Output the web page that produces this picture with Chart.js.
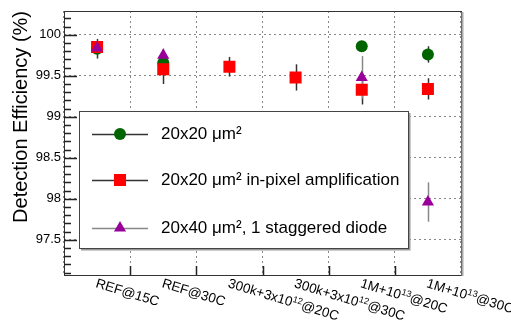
<!DOCTYPE html>
<html>
<head>
<meta charset="utf-8">
<script src="https://cdn.jsdelivr.net/npm/chart.js@4/dist/chart.umd.min.js"></script>
<style>
  html, body { margin: 0; padding: 0; background: #fff; }
</style>
</head>
<body>
<canvas id="myChart" width="511" height="327"></canvas>
<script>
'use strict';

// data

let categories = ['REF@15C', 'REF@30C', '300k+3x10^{12}@20C', '300k+3x10^{12}@30C', '1M+10^{13}@20C', '1M+10^{13}@30C'];
let seriesNames = ['20x20 \u03bcm\u00b2', '20x20 \u03bcm\u00b2 in-pixel amplification', '20x40 \u03bcm\u00b2, 1 staggered diode'];
let eff20x20 = [99.83, 99.66, null, null, 99.86, 99.76];
let err20x20 = [0.12, 0.08, null, null, 0.04, 0.1];
let effAmp = [99.85, 99.58, 99.61, 99.48, 99.33, 99.34];
let errAmp = [0.05, 0.18, 0.12, 0.16, 0.18, 0.13];
let eff20x40 = [99.84, 99.75, null, null, 99.48, 97.96];
let err20x40 = [0.08, 0.08, null, null, 0.26, 0.24];
let yTicks = [97.5, 98, 98.5, 99, 99.5, 100];
let yMin = 97.07;
let yMax = 100.29;

let fontFamily = '"Liberation Sans", Arial, Helvetica, sans-serif';

// draw text with ^{..} superscripts along the current baseline
function drawRichText(ctx, text, x, y, size) {
  let parts = text.split(/(\^\{[^}]*\})/);
  for (let i = 0; i < parts.length; i++) {
    let p = parts[i];
    if (!p) continue;
    if (p.startsWith('^{')) {
      p = p.slice(2, -1);
      ctx.font = Math.round(size * 0.7) + 'px ' + fontFamily;
      ctx.fillText(p, x, y - size * 0.1);
    } else {
      ctx.font = size + 'px ' + fontFamily;
      ctx.fillText(p, x, y);
    }
    x += ctx.measureText(p).width;
  }
}

// error bars, drawn under the markers
let errorBars = {
  id: 'errorBars',
  beforeDatasetsDraw(chart) {
    let ctx = chart.ctx;
    let yScale = chart.scales.y;
    let xScale = chart.scales.x;
    chart.data.datasets.forEach(function (ds) {
      ctx.save();
      ctx.strokeStyle = ds.errColor;
      ctx.lineWidth = 1.5;
      for (let i = 0; i < ds.data.length; i++) {
        if (ds.data[i] === null) continue;
        let x = Math.round(xScale.getPixelForValue(i)) + 0.5;
        ctx.beginPath();
        ctx.moveTo(x, yScale.getPixelForValue(ds.data[i] + ds.errors[i]));
        ctx.lineTo(x, yScale.getPixelForValue(ds.data[i] - ds.errors[i]));
        ctx.stroke();
      }
      ctx.restore();
    });
  }
};

// ROOT style legend box inside the frame
let boxLegend = {
  id: 'boxLegend',
  beforeDatasetsDraw(chart) {
    let ctx = chart.ctx;
    let box = { left: 79, top: 111, right: 409, bottom: 249 };
    let rows = [134, 180, 228];
    ctx.save();
    ctx.fillStyle = '#fff';
    ctx.fillRect(box.left, box.top, box.right - box.left, box.bottom - box.top);
    ctx.strokeStyle = '#999';
    ctx.lineWidth = 2;
    ctx.beginPath();
    ctx.moveTo(box.left + 2, box.bottom + 0.5);
    ctx.lineTo(box.right + 0.5, box.bottom + 0.5);
    ctx.lineTo(box.right + 0.5, box.top + 2);
    ctx.stroke();
    ctx.strokeStyle = '#444';
    ctx.lineWidth = 1;
    ctx.strokeRect(box.left + 0.5, box.top + 0.5, box.right - box.left - 1, box.bottom - box.top - 1);
    chart.data.datasets.forEach(function (ds, i) {
      let y = rows[i];
      ctx.strokeStyle = ds.errColor;
      ctx.lineWidth = 1.5;
      ctx.beginPath();
      ctx.moveTo(92, y + 0.5);
      ctx.lineTo(148, y + 0.5);
      ctx.stroke();
      ctx.fillStyle = ds.backgroundColor;
      Chart.helpers.drawPoint(ctx, {
        pointStyle: ds.pointStyle, radius: ds.pointRadius, rotation: 0, borderWidth: 0
      }, 120, y);
      ctx.fillStyle = '#000';
      ctx.font = '17px ' + fontFamily;
      ctx.textBaseline = 'middle';
      ctx.textAlign = 'left';
      ctx.fillText(ds.label, 161, y);
    });
    ctx.restore();
  }
};

// frame, inward ticks and slanted category labels
let frameAndLabels = {
  id: 'frameAndLabels',
  afterDraw(chart) {
    let ctx = chart.ctx;
    let area = chart.chartArea;
    let yScale = chart.scales.y;
    let xScale = chart.scales.x;
    ctx.save();
    ctx.strokeStyle = '#333';
    ctx.lineWidth = 1;
    ctx.strokeRect(Math.round(area.left) + 0.5, Math.round(area.top) + 0.5,
      Math.round(area.right - area.left), Math.round(area.bottom - area.top));
    ctx.strokeStyle = '#aaa';
    ctx.lineWidth = 2;
    ctx.beginPath();
    ctx.moveTo(Math.round(area.right) + 1.5, area.top + 1);
    ctx.lineTo(Math.round(area.right) + 1.5, area.bottom + 1);
    ctx.stroke();

    ctx.strokeStyle = '#222';
    ctx.lineWidth = 1.5;
    ctx.beginPath();
    for (let k = Math.ceil(yMin * 10); k <= Math.floor(yMax * 10); k++) {
      let y = Math.round(yScale.getPixelForValue(k / 10)) + 0.5;
      let len = k % 5 === 0 ? 13 : 7;
      ctx.moveTo(area.left, y);
      ctx.lineTo(area.left + len, y);
    }
    for (let i = 1; i < categories.length; i++) {
      let x = Math.round((xScale.getPixelForValue(i - 1) + xScale.getPixelForValue(i)) / 2) + 0.5;
      ctx.moveTo(x, area.bottom);
      ctx.lineTo(x, area.bottom - 9);
    }
    ctx.stroke();

    ctx.fillStyle = '#000';
    ctx.textBaseline = 'top';
    ctx.textAlign = 'left';
    for (let i = 0; i < categories.length; i++) {
      ctx.save();
      ctx.translate(xScale.getPixelForValue(i) + 1, area.bottom + 2);
      ctx.rotate(17 * Math.PI / 180);
      drawRichText(ctx, categories[i], 0, 0, 13.5);
      ctx.restore();
    }
    ctx.restore();
  }
};

let data = {
  labels: categories,
  datasets: [{
    label: seriesNames[0],
    data: eff20x20,
    errors: err20x20,
    errColor: '#333',
    backgroundColor: '#006400',
    borderColor: '#006400',
    pointStyle: 'circle',
    pointRadius: 6,
    order: 3
  },
  {
    label: seriesNames[1],
    data: effAmp,
    errors: errAmp,
    errColor: '#333',
    backgroundColor: '#ff0000',
    borderColor: '#ff0000',
    pointStyle: 'rect',
    pointRadius: 8.5,
    order: 2
  },
  {
    label: seriesNames[2],
    data: eff20x40,
    errors: err20x40,
    errColor: '#888',
    backgroundColor: '#990099',
    borderColor: '#990099',
    pointStyle: 'triangle',
    pointRadius: 7,
    order: 1
  }]
};

let config = {
  type: 'line',
  data: data,
  options: {
    responsive: false,
    animation: false,
    devicePixelRatio: 1,
    showLine: false,
    datasets: { line: { pointBorderWidth: 0, pointHoverRadius: 0 } },
    layout: { padding: { top: 11, right: 50, left: 0, bottom: 0 } },
    plugins: { legend: { display: false }, tooltip: { enabled: false } },
    scales: {
      x: {
        type: 'category',
        offset: true,
        grid: { offset: true, color: '#888', drawTicks: false },
        border: { display: false, dash: [2, 3] },
        ticks: { display: false },
        afterFit(scale) { scale.height = 52; }
      },
      y: {
        min: yMin,
        max: yMax,
        afterBuildTicks(scale) { scale.ticks = yTicks.map(function (v) { return { value: v }; }); },
        grid: { color: '#888', drawTicks: false },
        border: { display: false, dash: [2, 3] },
        ticks: {
          color: '#000',
          padding: 3,
          font: { family: fontFamily, size: 13 },
          callback(v) { return String(v); }
        },
        title: {
          display: true,
          text: 'Detection Efficiency (%)',
          align: 'end',
          color: '#000',
          padding: { top: 9, bottom: 0 },
          font: { family: fontFamily, size: 20 }
        },
        afterFit(scale) {
          scale.width = 64;
          scale.paddingTop = 0;
          scale.paddingBottom = 0;
        }
      }
    }
  },
  plugins: [errorBars, boxLegend, frameAndLabels]
};

let canvasChart = document.getElementById('myChart');
const myChart = new Chart(canvasChart, config);
</script>
</body>
</html>
